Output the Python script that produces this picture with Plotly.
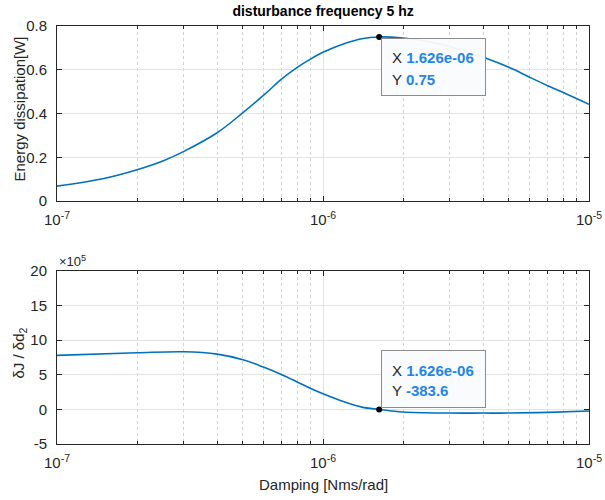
import math
import plotly.graph_objects as go
from plotly.subplots import make_subplots

# Damping values [Nms/rad]
damping = [1e-7, 1.5e-7, 2e-7, 2.5e-7, 3e-7, 4e-7, 5e-7, 6e-7, 7e-7, 8e-7, 9e-7, 1e-6,
           1.2e-6, 1.4e-6, 1.626e-6, 2e-6, 2.5e-6, 3e-6, 3.5e-6, 4.08e-6,
           5e-6, 6e-6, 7e-6, 8e-6, 1e-5]

# Energy dissipation [W]
energy = [0.068, 0.103, 0.143, 0.183, 0.227, 0.312, 0.404, 0.485, 0.558, 0.611, 0.650, 0.680,
          0.719, 0.742, 0.750, 0.745, 0.728, 0.706, 0.680, 0.654,
          0.611, 0.565, 0.527, 0.496, 0.442]

# Gradient dJ/dd2
damping_g = [1e-7, 2e-7, 3e-7, 4e-7, 5e-7, 6e-7, 7e-7, 8e-7, 9e-7, 1e-6,
             1.2e-6, 1.4e-6, 1.626e-6, 2e-6, 3e-6, 4e-6, 5e-6, 7e-6, 1e-5]
gradient = [7.8e5, 8.18e5, 8.33e5, 7.99e5, 7.18e5, 6.08e5, 5.02e5, 3.97e5, 3.01e5, 2.25e5,
            1.10e5, 0.33e5, -383.6, -0.38e5, -0.53e5, -0.53e5, -0.53e5, -0.43e5, -0.24e5]

# Data tips
tip_x = 1.626e-6
tip_energy = 0.75
tip_gradient = -383.6

x_major = [1e-7, 1e-6, 1e-5]
x_major_text = ["10<sup>-7</sup>", "10<sup>-6</sup>", "10<sup>-5</sup>"]
x_minor = [m * d for d in (1e-7, 1e-6) for m in range(2, 10)]

y1_ticks = [0, 0.2, 0.4, 0.6, 0.8]
y1_text = ["0", "0.2", "0.4", "0.6", "0.8"]
y2_ticks = [-5e5, 0, 5e5, 10e5, 15e5, 20e5]
y2_text = ["-5", "0", "5", "10", "15", "20"]

LINE = "#0072BD"
AX = "#262626"
GRID = "#e3e3e3"
MINOR = "#d2d2d2"
TIPBLUE = "#1f86e6"
FONT = "Liberation Sans, Arial, sans-serif"

TOP_DOMAIN = [0.5813, 1.0]
BOTTOM_DOMAIN = [0.0, 0.4139]

fig = make_subplots(rows=2, cols=1, vertical_spacing=0.0)

fig.add_trace(go.Scatter(x=damping, y=energy, mode="lines",
                         line=dict(color=LINE, width=1.6, shape="spline", smoothing=1.0),
                         showlegend=False), row=1, col=1)
fig.add_trace(go.Scatter(x=damping_g, y=gradient, mode="lines",
                         line=dict(color=LINE, width=1.6, shape="spline", smoothing=1.0),
                         showlegend=False), row=2, col=1)

fig.add_trace(go.Scatter(x=[tip_x], y=[tip_energy], mode="markers",
                         marker=dict(color="black", size=6), showlegend=False), row=1, col=1)
fig.add_trace(go.Scatter(x=[tip_x], y=[tip_gradient], mode="markers",
                         marker=dict(color="black", size=6), showlegend=False), row=2, col=1)

fig.update_xaxes(
    type="log", range=[-7, -5], tickvals=x_major, ticktext=x_major_text,
    ticks="inside", ticklen=5, tickcolor=AX, showline=True, linecolor=AX, linewidth=1,
    mirror="ticks", showgrid=True, gridcolor=GRID, gridwidth=1, zeroline=False,
    automargin=False, ticklabelstandoff=5,
    tickfont=dict(size=15, color=AX, family=FONT),
    minor=dict(tickvals=x_minor, ticks="inside", ticklen=3, tickcolor=AX,
               showgrid=True, gridcolor=MINOR, griddash="dot", gridwidth=1),
)

fig.update_yaxes(
    ticks="inside", ticklen=5, tickcolor=AX, showline=True, linecolor=AX, linewidth=1,
    mirror="ticks", showgrid=True, gridcolor=GRID, gridwidth=1, zeroline=False,
    automargin=False, ticklabelstandoff=6,
    tickfont=dict(size=15, color=AX, family=FONT),
)
fig.update_yaxes(range=[0, 0.8], tickvals=y1_ticks, ticktext=y1_text, row=1, col=1)
fig.update_yaxes(range=[-5e5, 20e5], tickvals=y2_ticks, ticktext=y2_text, row=2, col=1)

fig.update_layout(
    width=605, height=500,
    margin=dict(l=57, r=16, t=26, b=56),
    plot_bgcolor="white", paper_bgcolor="white",
    yaxis=dict(domain=TOP_DOMAIN),
    yaxis2=dict(domain=BOTTOM_DOMAIN),
    title=dict(text="<b>disturbance frequency 5 hz</b>", x=0.534, xanchor="center",
               y=0.978, yanchor="middle", font=dict(size=14, color="black", family=FONT)),
    font=dict(family=FONT, color=AX),
)

# axis titles
label_font = dict(size=15, color=AX, family=FONT)
fig.add_annotation(text="Energy dissipation[W]", xref="paper", yref="paper",
                   x=-0.071, y=sum(TOP_DOMAIN) / 2 + 0.01, textangle=-90,
                   xanchor="center", yanchor="middle", showarrow=False, font=label_font)
fig.add_annotation(text="δJ / δd<sub>2</sub>", xref="paper", yref="paper",
                   x=-0.071, y=sum(BOTTOM_DOMAIN) / 2 + 0.01, textangle=-90,
                   xanchor="center", yanchor="middle", showarrow=False, font=label_font)
fig.add_annotation(text="Damping [Nms/rad]", xref="paper", yref="paper",
                   x=0.5, y=-0.096, xanchor="center", yanchor="middle",
                   showarrow=False, font=label_font)

# scale factor label for the lower axes
fig.add_annotation(text="×10<sup>5</sup>", xref="paper", yref="paper", x=0.0, y=BOTTOM_DOMAIN[1],
                   xanchor="left", yanchor="bottom", showarrow=False,
                   font=dict(size=13, color=AX, family=FONT))


def add_datatip(xref, yref, xv, yv, ylabel, above):
    lx = math.log10(xv)
    box_anchor = "bottom" if above else "top"
    box_shift = 1 if above else -1
    fig.add_annotation(x=lx, y=yv, xref=xref, yref=yref, text=" ", showarrow=False,
                       xanchor="left", yanchor=box_anchor, xshift=2, yshift=box_shift,
                       width=103, height=56, bgcolor="rgba(250,251,253,0.95)",
                       bordercolor="#8c8c8c", borderwidth=1, borderpad=0)
    lines = [("X", f"{xv:.3e}"), ("Y", ylabel)]
    offsets = [39, 19] if above else [-21, -43]
    for (k, v), dy in zip(lines, offsets):
        fig.add_annotation(x=lx, y=yv, xref=xref, yref=yref,
                           text=f"<span style='color:{AX}'>{k}</span> <b style='color:{TIPBLUE}'>{v}</b>",
                           showarrow=False, xanchor="left", yanchor="middle",
                           xshift=11, yshift=dy, font=dict(size=15, family=FONT))


add_datatip("x", "y", tip_x, tip_energy, f"{tip_energy:g}", above=False)
add_datatip("x2", "y2", tip_x, tip_gradient, f"{tip_gradient:g}", above=True)

fig.write_html("out.html")
